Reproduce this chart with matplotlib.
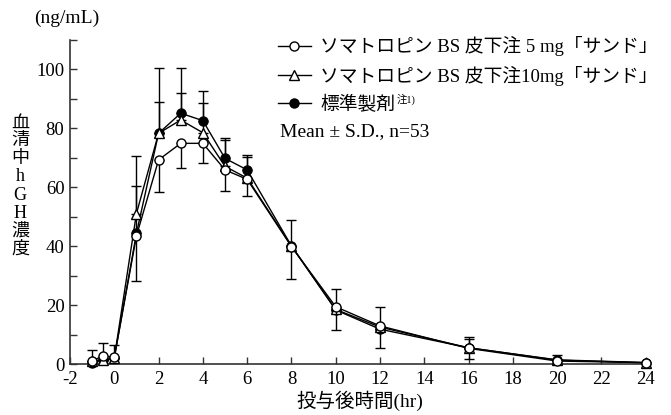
import numpy as np
import matplotlib
matplotlib.use('Agg')
import matplotlib.pyplot as plt

plt.rcParams['font.family'] = ['Liberation Serif', 'Noto Sans CJK JP', 'DejaVu Sans']
plt.rcParams['axes.unicode_minus'] = False

# sampling times (hr)
times = [-1, -0.5, 0, 1, 2, 3, 4, 5, 6, 8, 10, 12, 16, 20, 24]

# serum hGH (ng/mL), mean values
mean_5mg = [1.1, 2.7, 2.3, 43.4, 69.2, 74.8, 74.8, 65.8, 62.6, 39.8, 19.4, 12.9, 5.3, 1.0, 0.45]
mean_10mg = [1.0, 1.5, 2.0, 51.0, 78.2, 82.7, 78.4, 67.0, 63.0, 40.0, 18.5, 12.5, 5.5, 1.4, 0.5]
mean_std = [0.5, 1.3, 2.0, 44.3, 78.2, 85.0, 82.5, 69.7, 65.8, 40.0, 18.3, 11.8, 5.5, 1.3, 0.4]

# one-sided S.D. bars (lower, upper)
sd_lo_5mg = [0, 0, 0, 15.2, 10.8, 8.3, 6.8, 7.0, 5.8, 11.1, 7.9, 7.6, 3.5, 0.6, 0]
sd_up_5mg = [3.6, 4.3, 4.1, 0, 0, 0, 0, 0, 0, 0, 0, 0, 0, 0, 0]
sd_lo_10mg = [0] * 15
sd_up_10mg = [0, 0, 0, 19.6, 22.0, 9.0, 10.0, 8.9, 7.3, 0, 6.9, 6.7, 3.5, 1.5, 0]
sd_lo_std = [0] * 15
sd_up_std = [0, 0, 0, 15.9, 10.7, 15.2, 10.0, 7.0, 5.0, 8.8, 0, 0, 2.9, 0, 0]

labels = ['ソマトロピン BS 皮下注 5 mg「サンド」',
          'ソマトロピン BS 皮下注10mg「サンド」',
          '標準製剤']

fig = plt.figure(figsize=(6.71, 4.15), dpi=100)
ax = fig.add_axes([70 / 671, 1 - 364 / 415, 578 / 671, 324.5 / 415])

# drawn in this order so the 5 mg circles sit on top
series = [
    ('std', mean_std, sd_lo_std, sd_up_std, 'o', 'black', 2),
    ('10mg', mean_10mg, sd_lo_10mg, sd_up_10mg, '^', 'white', 3),
    ('5mg', mean_5mg, sd_lo_5mg, sd_up_5mg, 'o', 'white', 4),
]
handles = {}
for key, m, lo, up, mk, fc, z in series:
    ax.errorbar(times, m, yerr=[lo, up], fmt='none', ecolor='black',
                elinewidth=1.0, capsize=3.5, capthick=1.0, zorder=z)
    h, = ax.plot(times, m, color='black', lw=1.0, marker=mk, ms=6.5,
                 mfc=fc, mec='black', mew=1.0, zorder=z + 0.5, clip_on=False)
    handles[key] = h

lines = [handles['5mg'], handles['10mg'], handles['std']]

ax.set_xlim(-2, 24.1)
ax.set_ylim(0, 110)
ax.set_xticks(np.arange(-2, 25, 2))
ax.set_yticks(np.arange(0, 101, 20))
ax.set_yticks(np.arange(10, 111, 20), minor=True)
ax.tick_params(direction='in', labelsize=13.5, length=5, width=1, colors='#333333',
               labelcolor='black')
ax.tick_params(axis='x', pad=5)
ax.tick_params(axis='y', pad=4)
ax.tick_params(which='minor', direction='in', length=5, width=1, colors='#333333')
ax.spines['top'].set_visible(False)
ax.spines['right'].set_visible(False)
for s in ['left', 'bottom']:
    ax.spines[s].set_color('#333333')
    ax.spines[s].set_linewidth(1.2)

leg = ax.legend(lines, labels, loc='upper left',
                bbox_to_anchor=(278 / 671, 1 - 36 / 415),
                bbox_transform=fig.transFigure, frameon=False, fontsize=13.5,
                handlelength=1.75, handletextpad=0.5, labelspacing=0.52,
                borderpad=0, borderaxespad=0)

fig.text(280 / 671, 1 - 132 / 415, 'Mean ± S.D., n=53', fontsize=14,
         va='center', ha='left')

# superscript note after the third legend label
fig.canvas.draw()
bb = leg.get_texts()[2].get_window_extent()
fig.text(bb.x1 / 671 + 0.002, bb.y1 / 415 + 0.004, '注1)', fontsize=7.5,
         va='top', ha='left')

fig.text(20 / 671, 1 - 186 / 415, '\n'.join('血清中hGH濃度'), fontsize=13,
         ha='center', va='center', linespacing=1.08)
fig.text(67 / 671, 1 - 18 / 415, '(ng/mL)', fontsize=14, ha='center', va='center')
fig.text(360 / 671, 1 - 401 / 415, '投与後時間(hr)', fontsize=14,
         ha='center', va='center')

fig.savefig('out.png', dpi=100)
